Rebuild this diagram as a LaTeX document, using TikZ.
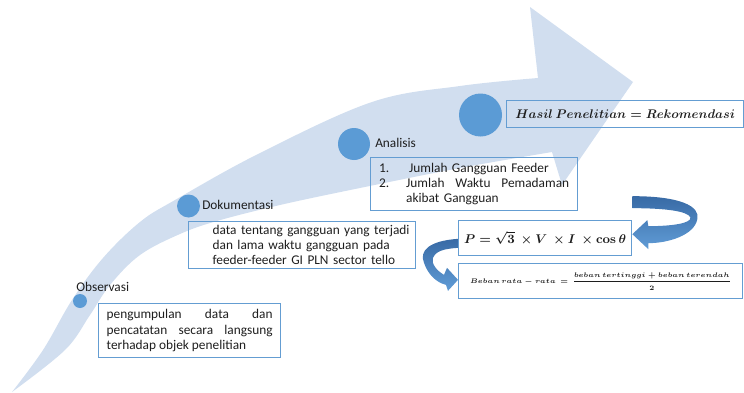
\documentclass[tikz,border=0pt]{standalone}
\usepackage{fix-cm}
\usepackage{amsmath}
\usepackage[no-math]{fontspec}
\setmainfont{Carlito}
\usetikzlibrary{positioning}
\definecolor{bandblue}{RGB}{209,222,239}
\definecolor{dotblue}{RGB}{91,155,213}
\definecolor{boxblue}{RGB}{100,157,210}
\definecolor{ribdark}{RGB}{56,106,165}
\definecolor{ribblue}{RGB}{96,156,214}
\definecolor{txtgray}{RGB}{30,30,30}

\begin{document}
\begin{tikzpicture}[x=0.75pt, y=-0.75pt,
  every node/.style={font=\fontsize{10}{11.4}\selectfont, text=txtgray},
  dot/.style={circle, fill=dotblue, inner sep=0pt},
  stage/.style={anchor=west, inner sep=0pt},
  infobox/.style={draw=boxblue, line width=1pt, inner ysep=0pt, anchor=north west},
  formula/.style={infobox, inner sep=0pt},
  ribbon/.style={top color=ribdark, bottom color=ribblue}]
  \useasboundingbox (0,0) rectangle (744,393);

  % Big curved arrow in the background
  \fill[bandblue] plot[smooth, tension=0.6] coordinates {(12,392) (43,350) (72,300) (103,258) (140,222) (175,200) (260,153) (372,102) (460,86) (538,78)}
    -- (530,7) -- (633,82) -- (562,185) -- (552,152)
    -- plot[smooth, tension=0.6] coordinates {(552,152) (460,168) (360,188) (280,205) (217,221) (180,234) (140,255) (110,285) (90,315) (65,350) (12,392)} -- cycle;

  % Stage dots
  \node[dot, minimum size=10.5pt] (obsdot) at (80,301) {};
  \node[dot, minimum size=17.25pt] (dokdot) at (188.5,206) {};
  \node[dot, minimum size=24pt] (anadot) at (354,144) {};
  \node[dot, minimum size=32.25pt] (hasdot) at (480.5,115) {};

  % Stage labels
  \node[stage] (obslabel) at (76,287) {Observasi};
  \node[stage] (doklabel) at (202,205) {Dokumentasi};
  \node[stage] (analabel) at (375,143) {Analisis};

  % Text boxes
  \node[infobox, inner xsep=6pt, text width=124.5pt, minimum height=40.5pt, align=justify] (obsbox) at (98,303)
    {pengumpulan data dan\linebreak pencatatan secara langsung\linebreak terhadap objek penelitian};
  \node[infobox, inner xsep=2pt, text width=166.25pt, minimum height=35.25pt, align=left] (dokbox) at (188,221)
    {\hspace*{16pt}data tentang gangguan yang terjadi\\ \hspace*{16pt}dan lama waktu gangguan pada\\ \hspace*{16pt}feeder-feeder GI PLN sector tello};
  \node[infobox, inner xsep=6.375pt, text width=142.5pt, minimum height=39.75pt, align=left] (anabox) at (370,157)
    {\makebox[22.5pt][l]{1.}Jumlah Gangguan Feeder\\
     \makebox[20.25pt][l]{2.}\makebox[122.25pt]{Jumlah\hfill Waktu\hfill Pemadaman}\\
     \hspace*{20.25pt}akibat Gangguan};

  % Formula boxes
  \node[formula, minimum width=177.75pt, minimum height=20.25pt, font=\fontsize{9.4}{11}\selectfont] (hasbox) at (506,100)
    {{\boldmath $Hasil\ Penelitian = Rekomendasi$}};
  \node[formula, minimum width=129.75pt, minimum height=26.25pt, font=\fontsize{9.5}{11}\selectfont] (pbox) at (458,220)
    {{\boldmath $P = \sqrt{3}\ \times V\ \times I\ \times \cos\theta$}};
  \node[formula, minimum width=213pt, minimum height=26.25pt, font=\fontsize{5}{6}\selectfont] (bebanbox) at (458,263)
    {{\boldmath $Beban\ rata - rata\ =\ \dfrac{beban\ tertinggi + beban\ terendah}{2}$}};

  % Curved arrows between the formulas
  \begin{scope}[shift={([yshift=3pt]pbox.east)}]
    \shade[ribbon] (0,-38) .. controls (48,-38) and (68,-28) .. (65,-15) .. controls (62,1) and (36,9) .. (16,9)
      -- (16,15) -- (0,0) -- (15,-14) -- (16,-8)
      .. controls (40,-8) and (60,-11) .. (58,-17) .. controls (55,-23) and (33,-26) .. (0,-26) -- cycle;
  \end{scope}
  \begin{scope}[shift={([yshift=1pt]bebanbox.west)}]
    \shade[ribbon] (0,-41) .. controls (-29,-39) and (-39,-29) .. (-34,-17) .. controls (-30,-5) and (-21,3) .. (-12,5)
      -- (-10,11) -- (0,0) -- (-11,-12) -- (-14,-5)
      .. controls (-21,-9) and (-27,-16) .. (-25,-22) .. controls (-22,-29) and (-14,-31) .. (0,-32) -- cycle;
  \end{scope}
\end{tikzpicture}
\end{document}
